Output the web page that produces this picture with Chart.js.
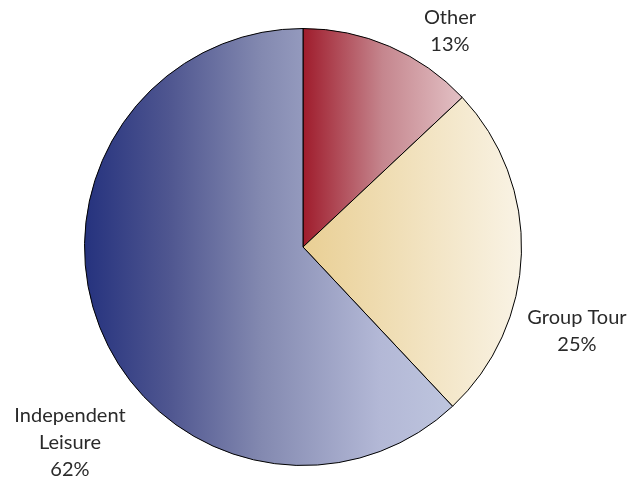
<!DOCTYPE html>
<html>
<head>
<meta charset="utf-8">
<script src="https://cdn.jsdelivr.net/npm/chart.js@4/dist/chart.umd.min.js"></script>
<style>
  html, body { margin: 0; padding: 0; background: #ffffff; }
  #wrap { width: 631px; height: 481px; }
</style>
</head>
<body>
<div id="wrap"><canvas id="pieChart"></canvas></div>
<script>
// ======================================================
// DATA
// ======================================================

const categories = ["Other", "Group Tour", "Independent Leisure"];
const shares = [13, 25, 62];
const labelLines = [["Other"], ["Group Tour"], ["Independent", "Leisure"]];

// gradient stops per slice, [offset, colour] from left edge to right edge
const sliceStops = [
  [[0, "#9f1c2c"], [0.5, "#c5868e"], [1, "#e3c1c5"]],
  [[0, "#e9cf94"], [1, "#f9f3e5"]],
  [[0, "#25327e"], [0.23, "#4f5690"], [0.48, "#8389b0"], [0.8, "#b3b8d6"], [1, "#bec5de"]],
];

// label anchor, relative to centre in units of radius
const labelAnchors = [
  [0.671, -1.05],
  [1.251, 0.32],
  [-1.064, 0.77],
];

// ======================================================
// HELPERS
// ======================================================

function pieGeometry(chart) {
  const area = chart.chartArea;
  return {
    cx: (area.left + area.right) / 2,
    cy: (area.top + area.bottom) / 2,
    r: Math.min(area.right - area.left, area.bottom - area.top) / 2,
  };
}

// horizontal gradient spanning the slice's own left/right extent
function sliceGradient(context) {
  const chart = context.chart;
  const i = context.dataIndex;
  if (!chart.chartArea) return sliceStops[i][0][1];

  const { cx, r } = pieGeometry(chart);
  const total = shares.reduce((a, b) => a + b, 0);
  const before = shares.slice(0, i).reduce((a, b) => a + b, 0);
  const start = -Math.PI / 2 + (before / total) * 2 * Math.PI;
  const end = start + (shares[i] / total) * 2 * Math.PI;

  const xs = [cx, cx + r * Math.cos(start), cx + r * Math.cos(end)];
  [0, Math.PI].forEach((a) => {
    for (let k = -2; k <= 2; k++) {
      const t = a + k * 2 * Math.PI;
      if (t > start && t < end) xs.push(cx + r * Math.cos(t));
    }
  });

  const grad = chart.ctx.createLinearGradient(Math.min(...xs), 0, Math.max(...xs), 0);
  sliceStops[i].forEach(([offset, color]) => grad.addColorStop(offset, color));
  return grad;
}

// outside labels: name lines + percentage
const outsideLabels = {
  id: "outsideLabels",
  afterDatasetsDraw(chart) {
    const ctx = chart.ctx;
    const { cx, cy, r } = pieGeometry(chart);
    const lineH = 27;

    ctx.save();
    ctx.font = "20px Lato";
    ctx.fillStyle = "#2a2a2a";
    ctx.textAlign = "center";
    ctx.textBaseline = "middle";

    shares.forEach((value, i) => {
      const lines = labelLines[i].concat([value + "%"]);
      const ax = cx + labelAnchors[i][0] * r;
      const ay = cy + labelAnchors[i][1] * r;
      lines.forEach((line, j) => {
        ctx.fillText(line, ax, ay + j * lineH);
      });
    });
    ctx.restore();
  },
};

// ======================================================
// CHART
// ======================================================

const ctx = document.getElementById("pieChart").getContext("2d");

new Chart(ctx, {
  type: "pie",
  data: {
    labels: categories,
    datasets: [
      {
        data: shares,
        backgroundColor: sliceGradient,
        borderColor: "#000000",
        borderWidth: 1,
      },
    ],
  },
  options: {
    responsive: true,
    maintainAspectRatio: false,
    animation: false,
    layout: {
      padding: { left: 84, right: 109, top: 28, bottom: 15 },
    },
    plugins: {
      legend: { display: false },
      tooltip: { enabled: false },
    },
  },
  plugins: [outsideLabels],
});
</script>
</body>
</html>
